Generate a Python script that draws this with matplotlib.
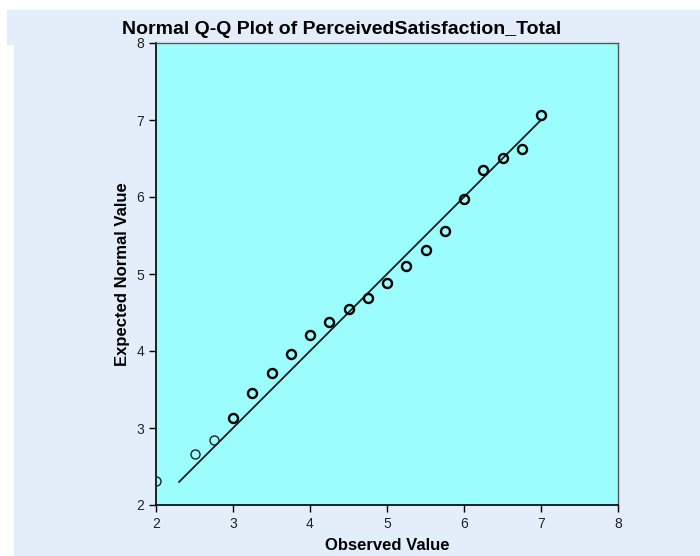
import matplotlib.pyplot as plt
from matplotlib.patches import Rectangle

observed = [2.0, 2.5, 2.75, 3.0, 3.25, 3.5, 3.75, 4.0, 4.25, 4.5,
            4.75, 5.0, 5.25, 5.5, 5.75, 6.0, 6.25, 6.5, 6.75, 7.0]
expected = [2.31, 2.66, 2.84, 3.13, 3.45, 3.71, 3.96, 4.21, 4.38, 4.55,
            4.69, 4.88, 5.10, 5.31, 5.56, 5.97, 6.35, 6.51, 6.62, 7.06]
line_ends = [2.3, 7.0]
ticks = [2, 3, 4, 5, 6, 7, 8]

plt.rcParams["font.family"] = ["Liberation Sans", "DejaVu Sans"]

fig = plt.figure(figsize=(7, 5.56), dpi=100, facecolor="white")
bg = "#e3eefa"
# SPSS-style light blue panels behind the chart
fig.add_artist(Rectangle((7/700, 1-44/556), 1-7/700, 34/556,
                         transform=fig.transFigure, color=bg, zorder=-10))
fig.add_artist(Rectangle((14/700, 0), 1-14/700, 1-44/556,
                         transform=fig.transFigure, color=bg, zorder=-10))

ax = fig.add_axes([156/700, 1-505/556, 462/700, 462/556])
ax.set_zorder(1)
ax.set_facecolor("#9cfdfd")

ax.plot(line_ends, line_ends, color="#1a1a1a", linewidth=1.3, zorder=2)
# first few cases are single points, drawn thinner
ax.plot(observed[:3], expected[:3], "o", mfc="none", mec="#222222",
        ms=6.5, mew=1.0, zorder=3)
ax.plot(observed[3:], expected[3:], "o", mfc="none", mec="black",
        ms=6.5, mew=1.7, zorder=3)

ax.set_xlim(2, 8)
ax.set_ylim(2, 8)
ax.set_xticks(ticks)
ax.set_yticks(ticks)
ax.tick_params(direction="out", length=5, width=1, labelsize=10,
               colors="black", labelcolor="#222222")
for s in ["left", "bottom"]:
    ax.spines[s].set_color("black")
    ax.spines[s].set_linewidth(1.2)
for s in ["top", "right"]:
    ax.spines[s].set_color("#555555")
    ax.spines[s].set_linewidth(1.0)

fig.text(342/700, 1-29/556, "Normal Q-Q Plot of PerceivedSatisfaction_Total",
         ha="center", va="center", fontsize=14, fontweight="bold")
fig.text(387/700, 1-546/556, "Observed Value", ha="center", va="center",
         fontsize=12, fontweight="bold")
fig.text(122/700, 1-274/556, "Expected Normal Value", ha="center", va="center",
         rotation=90, fontsize=12, fontweight="bold")

fig.savefig("out.png", dpi=100, facecolor="white")
